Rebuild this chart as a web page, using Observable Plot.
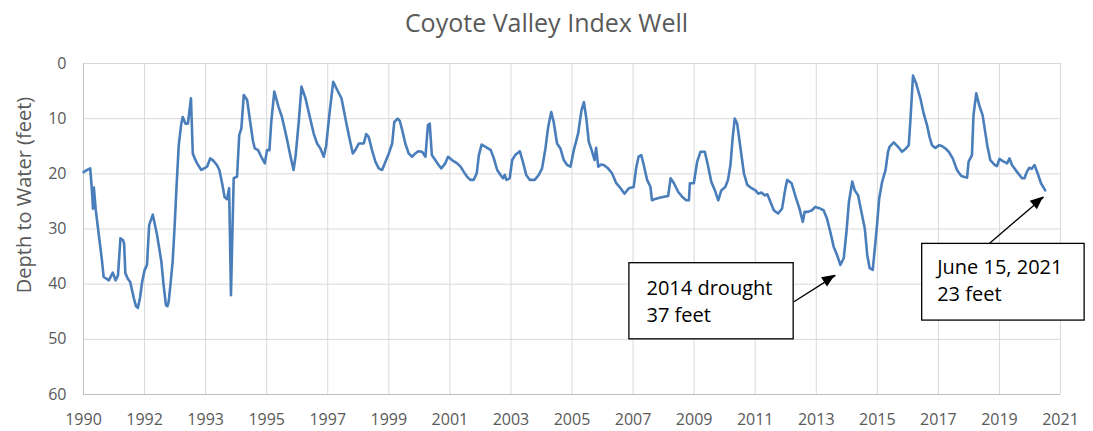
<!DOCTYPE html>
<html>
<head>
<meta charset="utf-8">
<script src="https://cdn.jsdelivr.net/npm/d3@7"></script>
<script src="https://cdn.jsdelivr.net/npm/@observablehq/plot@0.6"></script>
<style>
  html, body { margin: 0; padding: 0; background: #fff; }
  #title { height: 40px; line-height: 44px; text-align: center; font-family: "Open Sans", sans-serif; font-size: 25px; color: #595959; width: 1093px; }
  #chart { position: relative; width: 1093px; }
</style>
</head>
<body>
<div id="title">Coyote Valley Index Well</div>
<div id="chart"></div>
<script>
// ---- data (decimal year, depth to water in feet) ----
const years = [
  1990.00,1990.15,1990.22,1990.27,1990.31,1990.34,1990.40,1990.50,1990.60,1990.66,1990.75,1990.83,1990.96,
  1991.05,1991.13,1991.21,1991.29,1991.33,1991.37,1991.45,1991.53,1991.65,1991.72,1991.78,1991.85,1991.92,
  1992.00,1992.08,1992.15,1992.27,1992.41,1992.55,1992.62,1992.70,1992.75,1992.79,1992.85,1992.92,1992.98,
  1993.05,1993.12,1993.20,1993.25,1993.34,1993.42,1993.52,1993.58,1993.65,1993.72,1993.80,1993.86,1993.95,
  1994.05,1994.15,1994.25,1994.37,1994.45,1994.55,1994.62,1994.70,1994.77,1994.83,1994.88,1994.92,
  1995.03,1995.10,1995.17,1995.25,1995.36,1995.46,1995.55,1995.61,1995.72,1995.82,1995.94,
  1996.01,1996.09,1996.15,1996.25,1996.39,1996.50,1996.66,1996.77,1996.88,1996.95,
  1997.05,1997.14,1997.27,1997.40,1997.54,1997.65,1997.76,1997.87,1997.95,
  1998.05,1998.18,1998.31,1998.45,1998.58,1998.69,1998.82,1998.90,
  1999.02,1999.18,1999.26,1999.34,1999.45,1999.56,1999.67,1999.78,1999.89,
  2000.00,2000.11,2000.18,2000.29,2000.36,2000.44,2000.54,2000.65,2000.76,2000.87,2000.96,
  2001.09,2001.20,2001.28,2001.34,2001.41,2001.52,2001.63,2001.72,2001.85,2001.94,
  2002.07,2002.24,2002.35,2002.45,2002.56,2002.67,2002.78,2002.88,2002.95,
  2003.04,2003.17,2003.34,2003.44,2003.55,2003.66,2003.74,2003.80,2003.85,2003.90,2003.96,
  2004.04,2004.14,2004.29,2004.39,2004.50,2004.62,2004.78,2004.91,
  2005.02,2005.13,2005.22,2005.32,2005.40,2005.51,2005.62,2005.73,2005.84,2005.95,
  2006.06,2006.20,2006.31,2006.39,2006.47,2006.55,2006.66,2006.74,2006.79,2006.86,2006.95,
  2007.04,2007.18,2007.31,2007.45,2007.59,2007.72,2007.86,
  2008.02,2008.10,2008.18,2008.27,2008.35,2008.46,2008.57,2008.62,2008.75,2008.90,
  2009.06,2009.15,2009.23,2009.34,2009.48,2009.60,2009.74,2009.83,2009.86,2009.99,
  2010.10,2010.21,2010.35,2010.45,2010.56,2010.68,2010.79,2010.89,
  2011.02,2011.11,2011.19,2011.26,2011.33,2011.41,2011.52,2011.63,2011.74,2011.88,
  2012.01,2012.10,2012.20,2012.32,2012.40,2012.50,2012.61,2012.75,2012.88,2012.99,
  2013.05,2013.19,2013.32,2013.45,2013.56,2013.62,2013.73,2013.86,2013.97,
  2014.13,2014.24,2014.35,2014.46,2014.57,2014.68,2014.79,2014.90,2014.99,
  2015.07,2015.18,2015.26,2015.37,2015.48,2015.59,2015.67,2015.75,2015.85,2015.94,
  2016.00,2016.06,2016.16,2016.27,2016.35,2016.40,2016.54,2016.68,2016.81,2016.94,
  2017.03,2017.08,2017.17,2017.27,2017.41,2017.52,2017.63,2017.71,2017.79,2017.90,
  2018.03,2018.13,2018.23,2018.34,2018.47,2018.61,2018.75,2018.94,2018.99,
  2019.10,2019.15,2019.24,2019.34,2019.45,2019.60,2019.70,2019.85,2019.92,
  2020.00,2020.11,2020.25,2020.33,2020.41,2020.57,2020.74,2020.82,2020.90,2020.98,
  2021.06,2021.15,2021.25,2021.36,2021.50
];
const depth = [
  19.7,19.2,19.0,22.5,26.3,22.5,26.5,31.0,35.5,38.7,39.0,39.3,37.9,
  39.3,38.4,31.7,32.0,32.6,38.0,39.0,39.6,42.6,44.0,44.3,42.5,39.6,
  37.5,36.5,29.3,27.4,31.1,35.9,40.0,43.8,44.0,43.2,40.0,35.9,30.0,
  22.0,14.8,11.0,9.7,10.9,10.9,6.3,16.3,17.3,18.1,18.8,19.3,19.0,
  18.7,17.2,17.6,18.4,19.3,22.0,24.2,24.6,22.6,42.0,30.0,20.8,
  20.5,13.0,11.8,5.7,6.6,10.6,14.0,15.4,15.7,16.9,18.1,
  15.7,15.7,10.6,5.1,7.9,9.7,13.6,16.6,19.3,16.6,
  10.6,4.2,6.3,9.4,12.7,14.5,15.4,16.9,14.8,
  9.4,3.3,4.8,6.3,10.0,13.0,16.3,15.7,
  14.5,14.5,12.8,13.3,15.7,17.8,19.0,19.3,17.8,
  16.3,14.5,10.6,10.0,10.4,12.1,14.5,16.3,16.9,16.3,15.9,
  16.0,16.9,11.2,10.9,16.6,17.5,18.4,19.0,18.1,16.9,
  17.5,18.1,18.7,19.6,20.5,21.1,21.1,19.9,16.6,
  14.7,15.1,15.7,17.2,19.3,20.2,20.8,20.2,21.1,21.0,20.8,
  17.5,16.6,15.9,17.8,20.2,21.1,21.1,20.2,
  19.0,15.4,11.5,8.8,10.6,14.5,15.4,17.5,18.4,18.7,
  15.7,12.7,8.5,7.0,10.0,14.2,16.0,17.5,15.3,18.7,18.3,
  18.4,19.0,19.9,21.7,22.6,23.6,22.6,
  22.4,19.0,16.9,16.6,18.4,21.1,22.4,24.8,24.5,24.3,
  24.1,24.0,20.8,21.7,23.3,24.1,24.8,24.8,21.7,21.7,
  17.8,16.0,16.0,18.4,21.4,23.0,24.8,23.0,
  22.4,21.1,18.4,13.6,10.0,10.9,15.4,19.9,22.0,22.6,
  23.0,23.6,23.4,23.9,23.7,25.1,26.6,27.2,26.3,22.6,
  21.1,21.7,24.1,26.3,28.7,26.9,26.9,26.6,26.0,
  26.3,26.6,28.1,30.5,33.2,34.7,36.5,35.3,30.5,
  25.1,21.4,23.0,23.9,26.9,29.9,34.7,37.1,37.4,32.3,
  28.7,24.5,21.4,19.3,16.0,15.1,14.3,15.1,16.0,15.4,
  14.8,10.6,2.2,3.6,6.3,9.1,11.2,13.3,14.8,15.3,
  14.8,15.0,15.4,16.0,17.2,19.3,20.4,20.7,17.8,
  16.6,9.4,5.4,7.6,9.4,14.8,17.5,18.4,18.6,
  17.3,17.7,18.1,17.2,18.4,19.6,20.8,20.8,19.6,18.9,
  19.1,18.4,19.9,21.7,23.0
];
const yTicks = [0, 10, 20, 30, 40, 50, 60];
const xTickPositions = [1990,1992,1994,1996,1998,2000,2002,2004,2006,2008,2010,2012,2014,2016,2018,2020,2022];
const xTickLabels = ["1990","1992","1993","1995","1997","1999","2001","2003","2005","2007","2009","2011","2013","2015","2017","2019","2021"];

// annotations (data coordinates)
const noteLabels = ["2014 drought\n37 feet", "June 15, 2021\n23 feet"];
const noteBoxX1 = [2007.88, 2017.47];
const noteBoxX2 = [2013.26, 2022.79];
const noteBoxY1 = [36.2, 32.7];
const noteBoxY2 = [50.0, 46.6];
const noteTextX = [2008.44, 2017.96];
const noteTextY = [42.8, 39.1];
const arrowFromX = [2013.27, 2019.63];
const arrowFromY = [43.2, 32.8];
const arrowToX = [2014.63, 2021.45];
const arrowToY = [38.4, 24.2];

const series = years.map((x, i) => ({x, y: depth[i]}));
const notes = noteLabels.map((label, i) => ({
  label, x1: noteBoxX1[i], x2: noteBoxX2[i], y1: noteBoxY1[i], y2: noteBoxY2[i],
  tx: noteTextX[i], ty: noteTextY[i],
  ax1: arrowFromX[i], ay1: arrowFromY[i], ax2: arrowToX[i], ay2: arrowToY[i]
}));
const labelOf = new Map(xTickPositions.map((v, i) => [v, xTickLabels[i]]));

const plot = Plot.plot({
  width: 1093,
  height: 391,
  marginTop: 23,
  marginBottom: 37,
  marginLeft: 83,
  marginRight: 33,
  style: {fontFamily: "'Open Sans', sans-serif", fontSize: "16px", color: "#595959", background: "#fff", overflow: "visible"},
  x: {domain: [1990, 2022]},
  y: {domain: [0, 60], reverse: true},
  marks: [
    Plot.gridY(yTicks, {stroke: "#d9d9d9", strokeOpacity: 1, strokeWidth: 1}),
    Plot.gridX(xTickPositions, {stroke: "#d9d9d9", strokeOpacity: 1, strokeWidth: 1}),
    Plot.ruleX([1990], {stroke: "#bfbfbf", strokeWidth: 1}),
    Plot.ruleY([60], {stroke: "#bfbfbf", strokeWidth: 1}),
    Plot.axisX(xTickPositions, {tickSize: 0, tickPadding: 19, tickFormat: d => labelOf.get(d), label: null, fill: "#595959"}),
    Plot.axisY(yTicks, {tickSize: 0, tickPadding: 17, label: null, fill: "#595959"}),
    Plot.line(series, {x: "x", y: "y", stroke: "#4a7ebb", strokeWidth: 2.6, strokeLinejoin: "round"}),
    Plot.link(notes, {x1: "ax1", y1: "ay1", x2: "ax2", y2: "ay2", stroke: "#000", strokeWidth: 1.3}),
    Plot.rect(notes, {x1: "x1", x2: "x2", y1: "y1", y2: "y2", fill: "#fff", stroke: "#000", strokeWidth: 1.3}),
    Plot.text(notes, {x: "tx", y: "ty", text: "label", textAnchor: "start", lineAnchor: "middle", lineHeight: 1.35, fontSize: 20, fill: "#000"})
  ]
});

// filled arrowheads positioned through the plot's scales
const sx = plot.scale("x"), sy = plot.scale("y");
const svg = d3.select(plot);
notes.forEach(n => {
  const x1 = sx.apply(n.ax1), y1 = sy.apply(n.ay1), x2 = sx.apply(n.ax2), y2 = sy.apply(n.ay2);
  const a = Math.atan2(y2 - y1, x2 - x1);
  const L = 13, W = 5.5;
  const bx = x2 - L * Math.cos(a), by = y2 - L * Math.sin(a);
  const px = -Math.sin(a) * W, py = Math.cos(a) * W;
  svg.append("polygon")
    .attr("points", `${x2},${y2} ${bx + px},${by + py} ${bx - px},${by - py}`)
    .attr("fill", "#000");
});

// y-axis title (rotated)
svg.append("text")
  .attr("transform", `translate(${23},${195 - 40}) rotate(-90)`)
  .attr("text-anchor", "middle")
  .attr("dominant-baseline", "central")
  .attr("font-size", 20)
  .attr("fill", "#595959")
  .text("Depth to Water (feet)");

document.getElementById("chart").appendChild(plot);
</script>
</body>
</html>
